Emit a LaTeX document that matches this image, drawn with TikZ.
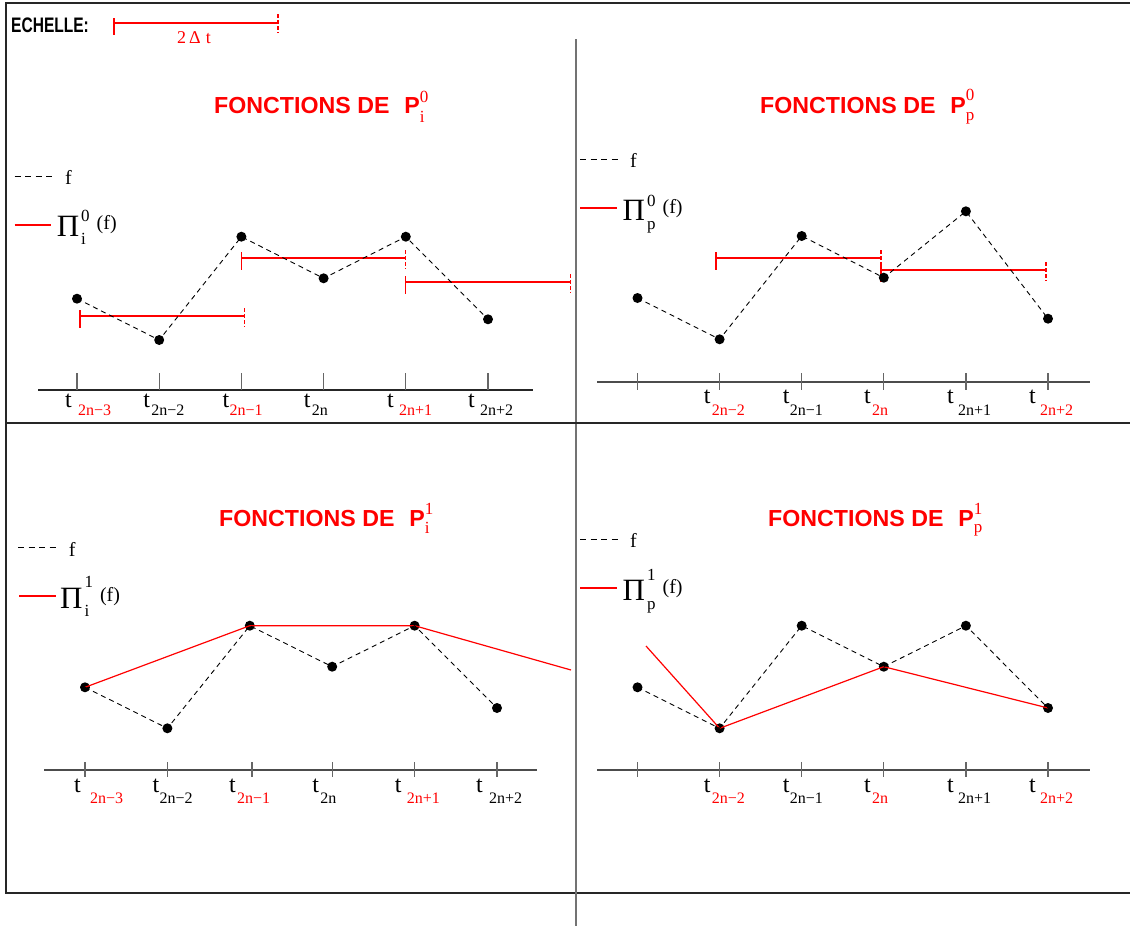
\documentclass[tikz,border=0pt]{standalone}
\usepackage{fontspec}
\setmainfont{Liberation Serif}
\setsansfont{Liberation Sans}
\usepackage{graphicx}
\usetikzlibrary{positioning}

\newcommand{\supsz}{\fontsize{17}{18}\selectfont\rmfamily\mdseries}
\newcommand{\pisz}{\fontsize{31}{33}\selectfont}

\begin{document}
\begin{tikzpicture}[
  x=1pt,y=-1pt,
  frame/.style={draw=black!85,line width=1.5pt},
  divider/.style={draw=black!55,line width=1.8pt},
  axis/.style={draw=black!70,line width=1.4pt},
  axtick/.style={draw=black!60,line width=1.2pt},
  fcurve/.style={draw=black,line width=0.9pt,dash pattern=on 5pt off 4pt},
  fsample/.style={draw=black,line width=1pt,dash pattern=on 6pt off 4.5pt},
  proj/.style={draw=red,line width=1.2pt},
  open end/.style={draw=red,line width=1.2pt,dash pattern=on 4pt off 2pt},
  dot/.style={circle,fill=black,inner sep=0pt,minimum size=10pt},
  heading/.style={text=red,font=\fontsize{23.2}{26}\selectfont\sffamily\bfseries,
    inner sep=0pt,anchor=base west},
  tname/.style={font=\fontsize{24}{26}\selectfont,inner sep=0pt,anchor=base west},
  tindex/.style={font=\fontsize{16}{18}\selectfont,inner sep=0pt,anchor=base west},
  legend/.style={font=\fontsize{20}{22}\selectfont,inner sep=0pt,anchor=base west}
]
\useasboundingbox (0,0) rectangle (1130,926);

% frame and the two dividers
\draw[frame] (1130,3) -- (6,3) -- (6,893) -- (1130,893);
\draw[divider] (576,39) -- (576,926);
\draw[frame,line width=1.3pt] (6,423) -- (1130,423);

% scale of the time axis
\node[inner sep=0pt,anchor=base west,font=\fontsize{21}{23}\selectfont\sffamily\bfseries]
  (scale) at (11,32) {\scalebox{0.74}[1]{ECHELLE:}};
\coordinate (scale-a) at (114,23);
\coordinate (scale-b) at (278,23);
\draw[proj] (scale-a) -- (scale-b);
\draw[proj] ([yshift=5pt]scale-a) -- ([yshift=-12pt]scale-a);
\draw[open end] ([yshift=9pt]scale-b) -- ([yshift=-10pt]scale-b);
\node[inner sep=0pt,anchor=base west,text=red,font=\fontsize{18}{20}\selectfont]
  (scale-lab) at (177,43.3) {2\hspace{3pt}Δ\hspace{5pt}t};

% A — P_i^0: piecewise constants on [t_{2n-1},t_{2n+1}]
\node[heading] (head-a) at (214,113.3)
  {FONCTIONS DE\hspace{15pt}P\rlap{\raisebox{11pt}{\supsz 0}}\raisebox{-9pt}{\supsz i}};
\draw[fsample] (14.6,176) -- (53,176);
\node[legend] (leg-a-f) at (65,184) {f};
\draw[proj] (14.6,225) -- (51,225);
\node[legend] (leg-a-pi) at (56.6,236.7)
  {{\pisz Π}\hspace{2pt}\rlap{\raisebox{15pt}{\supsz 0}}\rlap{\raisebox{-8pt}{\supsz i}}\hspace{15.5pt}\raisebox{7pt}{(f)}};
\draw[axis,draw=black!85] (38,390) -- (533,390);
\foreach \x in {77,159.2,241.4,323.6,405.8,488}
  \draw[axtick] (\x,373) -- (\x,390);
\foreach \x/\tl/\sl/\s/\c [count=\k] in {77/-12/1/2n−3/red, 159.2/-16/-8/2n−2/black,
    241.4/-19/-12/2n−1/red, 323.6/-20/-12/2n/black, 405.8/-19/-7/2n+1/red, 488/-20/-8/2n+2/black} {
  \node[tname] (a-t\k) at (\x+\tl,407) {t};
  \node[tindex,text=\c] (a-s\k) at (\x+\sl,415) {\s};
}
\foreach \a/\b/\y in {80/244.5/316, 241.4/405.8/258, 405.8/570.5/282} {
  \draw[proj] (\a,\y) -- (\b,\y);
  \draw[proj] (\a,\y-6) -- (\a,\y+12);
  \draw[open end] (\b,\y-8) -- (\b,\y+11);
}
\foreach \n/\x/\y in {1/77/298.7, 2/159.2/340, 3/241.4/236.7, 4/323.6/278.3, 5/405.8/236.7, 6/488/319.3}
  \node[dot] (a\n) at (\x,\y) {};
\draw[fcurve] (a1.center) -- (a2.center) -- (a3.center) -- (a4.center) -- (a5.center) -- (a6.center);

% B — P_p^0: piecewise constants on [t_{2n-2},t_{2n}]
\node[heading] (head-b) at (760,113.3)
  {FONCTIONS DE\hspace{15pt}P\rlap{\raisebox{13pt}{\supsz 0}}\raisebox{-7pt}{\supsz p}};
\draw[fsample] (580,159) -- (619,159);
\node[legend] (leg-b-f) at (630,167) {f};
\draw[proj] (580,208) -- (616.5,208);
\node[legend] (leg-b-pi) at (622.5,220)
  {{\pisz Π}\hspace{2pt}\rlap{\raisebox{14pt}{\supsz 0}}\rlap{\raisebox{-9pt}{\supsz p}}\hspace{15.5pt}\raisebox{7pt}{(f)}};
\draw[axis] (597,382) -- (1090,382);
\foreach \x in {637.5,719.6,801.7,883.8,965.9,1048}
  \draw[axtick] (\x,373) -- (\x,390);
\foreach \x/\tl/\sl/\s/\c [count=\k] in {719.6/-16/-8/2n−2/red, 801.7/-19/-12/2n−1/black,
    883.8/-20/-12/2n/red, 965.9/-19/-8/2n+1/black, 1048/-19/-8/2n+2/red} {
  \node[tname] (b-t\k) at (\x+\tl,403) {t};
  \node[tindex,text=\c] (b-s\k) at (\x+\sl,415) {\s};
}
\foreach \a/\b/\y in {716/881/258, 881/1046/270} {
  \draw[proj] (\a,\y) -- (\b,\y);
  \draw[proj] (\a,\y-6) -- (\a,\y+12);
  \draw[open end] (\b,\y-8) -- (\b,\y+11);
}
\foreach \n/\x/\y in {1/637.5/298, 2/719.6/339.3, 3/801.7/236, 4/883.8/277.7, 5/965.9/211.3, 6/1048/318.7}
  \node[dot] (b\n) at (\x,\y) {};
\draw[fcurve] (b1.center) -- (b2.center) -- (b3.center) -- (b4.center) -- (b5.center) -- (b6.center);

% C — P_i^1: linear interpolation at the odd nodes
\node[heading] (head-c) at (219,526.7)
  {FONCTIONS DE\hspace{15pt}P\rlap{\raisebox{12pt}{\supsz 1}}\raisebox{-7pt}{\supsz i}};
\draw[fsample] (18,547) -- (58,547);
\node[legend] (leg-c-f) at (68.6,556.7) {f};
\draw[proj] (19,596) -- (55.5,596);
\node[legend] (leg-c-pi) at (60,608.3)
  {{\pisz Π}\hspace{2pt}\rlap{\raisebox{21pt}{\supsz 1}}\rlap{\raisebox{-8pt}{\supsz i}}\hspace{15.5pt}\raisebox{7pt}{(f)}};
\draw[axis] (44,770) -- (537,770);
\foreach \x in {85,167.4,252,332.2,414.6,497}
  \draw[axtick] (\x,762) -- (\x,777);
\foreach \x/\tl/\sl/\s/\c [count=\k] in {85/-11/5/2n−3/red, 167.4/-15/-8/2n−2/black,
    252/-23/-15/2n−1/red, 332.2/-20/-12/2n/black, 414.6/-20/-8/2n+1/red, 497/-21/-8/2n+2/black} {
  \node[tname] (c-t\k) at (\x+\tl,792) {t};
  \node[tindex,text=\c] (c-s\k) at (\x+\sl,803.3) {\s};
}
\foreach \n/\x/\y in {1/85/687.3, 2/167.4/728.3, 3/249.8/625.7, 4/332.2/666.7, 5/414.6/625.7, 6/497/708}
  \node[dot] (c\n) at (\x,\y) {};
\coordinate (c-end) at (571,670);
\draw[proj] (c1.center) -- (c3.center) -- (c5.center) -- (c-end);
\draw[fcurve] (c1.center) -- (c2.center) -- (c3.center) -- (c4.center) -- (c5.center) -- (c6.center);

% D — P_p^1: linear interpolation at the even nodes
\node[heading] (head-d) at (768,526.7)
  {FONCTIONS DE\hspace{15pt}P\rlap{\raisebox{12pt}{\supsz 1}}\raisebox{-6pt}{\supsz p}};
\draw[fsample] (580,539) -- (619,539);
\node[legend] (leg-d-f) at (630,547) {f};
\draw[proj] (580,588) -- (616.5,588);
\node[legend] (leg-d-pi) at (622.5,600)
  {{\pisz Π}\hspace{2pt}\rlap{\raisebox{20pt}{\supsz 1}}\rlap{\raisebox{-9pt}{\supsz p}}\hspace{15.5pt}\raisebox{7pt}{(f)}};
\draw[axis] (597,770) -- (1090,770);
\foreach \x in {637.5,719.6,801.7,883.8,965.9,1048}
  \draw[axtick] (\x,762) -- (\x,777);
\foreach \x/\tl/\sl/\s/\c [count=\k] in {719.6/-16/-8/2n−2/red, 801.7/-19/-12/2n−1/black,
    883.8/-20/-12/2n/red, 965.9/-19/-8/2n+1/black, 1048/-19/-8/2n+2/red} {
  \node[tname] (d-t\k) at (\x+\tl,792) {t};
  \node[tindex,text=\c] (d-s\k) at (\x+\sl,803.3) {\s};
}
\foreach \n/\x/\y in {1/637.5/687.3, 2/719.6/728.3, 3/801.7/625.7, 4/883.8/666.7, 5/965.9/625.7, 6/1048/708}
  \node[dot] (d\n) at (\x,\y) {};
\coordinate (d-start) at (646,646);
\draw[proj] (d-start) -- (d2.center) -- (d4.center) -- (d6.center);
\draw[fcurve] (d1.center) -- (d2.center) -- (d3.center) -- (d4.center) -- (d5.center) -- (d6.center);

\end{tikzpicture}
\end{document}
